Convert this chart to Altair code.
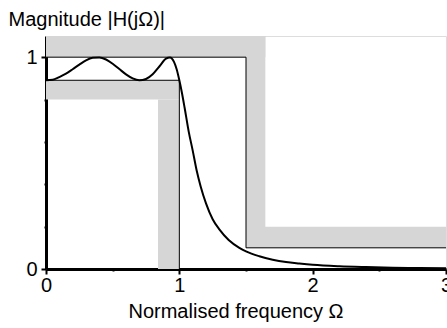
import altair as alt
import pandas as pd

# Magnitude response
freq = [0, 0.05, 0.1, 0.15, 0.2, 0.25, 0.3, 0.35, 0.4, 0.45, 0.5, 0.55, 0.6, 0.65,
        0.7, 0.75, 0.8, 0.85, 0.9, 0.93, 0.96, 0.98, 1.0, 1.02, 1.04, 1.07, 1.1,
        1.13, 1.16, 1.2, 1.25, 1.3, 1.37, 1.45, 1.5, 1.6, 1.7, 1.8, 1.9, 2.0,
        2.2, 2.4, 2.6, 2.8, 3.0]
mag = [0.891, 0.893, 0.906, 0.922, 0.943, 0.965, 0.985, 0.997, 0.999, 0.989, 0.969,
       0.944, 0.919, 0.900, 0.891, 0.897, 0.919, 0.956, 0.993, 0.999, 0.978, 0.943,
       0.891, 0.83, 0.76, 0.65, 0.56, 0.465, 0.39, 0.31, 0.235, 0.187, 0.137,
       0.100, 0.083, 0.060, 0.044, 0.033, 0.026, 0.020, 0.013, 0.009, 0.006,
       0.0046, 0.0034]

# Grey tolerance bands
band_x0 = [0.0, 0.84, 0.0, 1.5, 1.5]
band_x1 = [1.0, 1.0, 1.645, 1.645, 3.0]
band_y0 = [0.80, 0.0, 1.0, 0.1, 0.1]
band_y1 = [0.891, 0.80, 1.1, 1.1, 0.2]

# Thin black specification outlines
pass_x = [0, 1, 1]
pass_y = [0.891, 0.891, 0]
stop_x = [0, 1.5, 1.5, 3]
stop_y = [1, 1, 0.1, 0.1]

x_ticks = [0, 0.5, 1, 1.5, 2, 2.5, 3]
y_ticks = [0, 0.1, 0.2, 0.3, 0.4, 0.5, 0.6, 0.7, 0.8, 0.9, 1.0]

FONT = "Liberation Sans"

curve_df = pd.DataFrame({"f": freq, "m": mag})
band_df = pd.DataFrame({"x0": band_x0, "x1": band_x1, "y0": band_y0, "y1": band_y1})
spec_df = pd.DataFrame({
    "f": pass_x + stop_x,
    "m": pass_y + stop_y,
    "grp": ["pass"] * len(pass_x) + ["stop"] * len(stop_x),
    "ord": list(range(len(pass_x))) + list(range(len(stop_x))),
})

xscale = alt.Scale(domain=[0, 3], nice=False, zero=False)
yscale = alt.Scale(domain=[0, 1.1], nice=False, zero=False)

xaxis = alt.Axis(
    values=x_ticks,
    labelExpr="datum.value % 1 == 0 ? format(datum.value, '~g') : ''",
    tickSize={"condition": {"test": "datum.value % 1 == 0", "value": 5}, "value": 2},
    tickWidth=2, tickColor="black",
    domainWidth=3, domainColor="black",
    labelFont=FONT, labelFontSize=20, labelColor="black", labelPadding=1,
    labelOverlap=False, labelFlush=False,
    grid=False,
    title="Normalised frequency Ω",
    titleFont=FONT, titleFontSize=20, titleFontWeight="normal", titleColor="black",
    titleX=189.5, titleY=48, titleBaseline="alphabetic",
)
yaxis = alt.Axis(
    values=y_ticks,
    labelExpr="datum.value % 0.5 == 0 ? format(datum.value, '~g') : ''",
    tickSize={"condition": {"test": "datum.value % 0.5 == 0", "value": 5}, "value": 2},
    tickWidth=2, tickColor="black",
    domainWidth=3, domainColor="black",
    labelFont=FONT, labelFontSize=20, labelColor="black", labelPadding=4,
    labelOverlap=False, labelFlush=False,
    grid=False,
    title="Magnitude |H(jΩ)|",
    titleFont=FONT, titleFontSize=20, titleFontWeight="normal", titleColor="black",
    titleAngle=0, titleAlign="left", titleBaseline="alphabetic",
    titleX=-38, titleY=-11,
)

bands = alt.Chart(band_df).mark_rect(color="#d6d6d6").encode(
    x=alt.X("x0:Q", scale=xscale, axis=xaxis),
    x2="x1:Q",
    y=alt.Y("y0:Q", scale=yscale, axis=yaxis),
    y2="y1:Q",
)

spec = alt.Chart(spec_df).mark_line(color="black", strokeWidth=1).encode(
    x=alt.X("f:Q", scale=xscale),
    y=alt.Y("m:Q", scale=yscale),
    detail="grp:N",
    order="ord:Q",
)

curve = alt.Chart(curve_df).mark_line(color="black", strokeWidth=2, interpolate="monotone").encode(
    x=alt.X("f:Q", scale=xscale),
    y=alt.Y("m:Q", scale=yscale),
)

chart = alt.layer(bands, spec, curve).properties(
    width=400, height=233,
    autosize=alt.AutoSizeParams(type="none"),
    padding={"left": 46, "top": 36, "right": 1, "bottom": 59},
).configure_view(stroke=None).configure(background="white")

chart.save("out.html", embed_options={"renderer": "svg", "actions": False})
